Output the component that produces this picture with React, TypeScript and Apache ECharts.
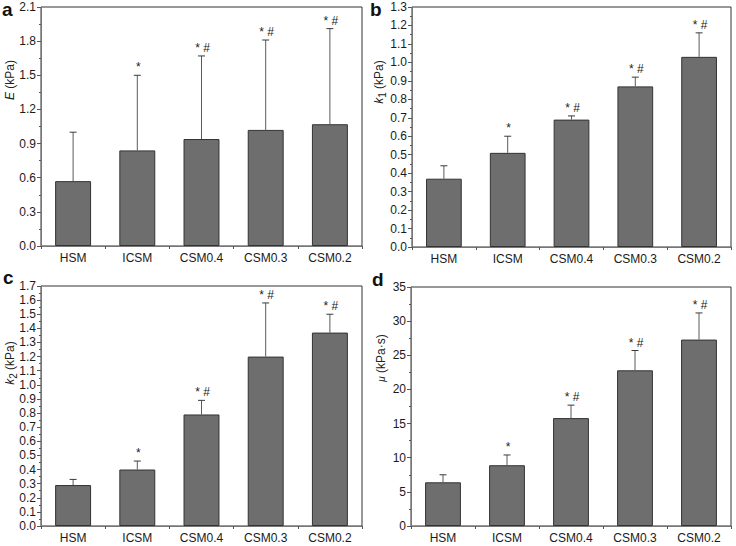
import React, { useEffect, useRef } from "react";
import * as echarts from "echarts";

const categories = ["HSM", "ICSM", "CSM0.4", "CSM0.3", "CSM0.2"];
const eMean = [0.57, 0.84, 0.94, 1.02, 1.07];
const eUpper = [1.0, 1.5, 1.67, 1.81, 1.91];
const k1Mean = [0.37, 0.51, 0.69, 0.87, 1.03];
const k1Upper = [0.44, 0.6, 0.71, 0.92, 1.16];
const k2Mean = [0.29, 0.4, 0.79, 1.2, 1.37];
const k2Upper = [0.33, 0.46, 0.89, 1.58, 1.5];
const muMean = [6.4, 8.9, 15.8, 22.8, 27.3];
const muUpper = [7.5, 10.4, 17.7, 25.7, 31.2];
const marks = ["", "*", "* #", "* #", "* #"];

const FONT = "Liberation Sans, Arial, sans-serif";

const panels = [
  { letter: "a", mean: eMean, upper: eUpper, max: 2.1, interval: 0.3, dec: 1 },
  { letter: "b", mean: k1Mean, upper: k1Upper, max: 1.3, interval: 0.1, dec: 1 },
  { letter: "c", mean: k2Mean, upper: k2Upper, max: 1.7, interval: 0.1, dec: 1 },
  { letter: "d", mean: muMean, upper: muUpper, max: 35, interval: 5, dec: 0 },
];

const grids = [
  { left: 41, top: 7, width: 321, height: 239 },
  { left: 412, top: 7, width: 319, height: 240 },
  { left: 41, top: 286, width: 321, height: 240 },
  { left: 411, top: 287, width: 320, height: 239 },
];

export default function App() {
  const ref = useRef<HTMLDivElement>(null);
  useEffect(() => {
    if (!ref.current) return;
    const chart = echarts.init(ref.current, undefined, { renderer: "svg" });

    const xAxis: any[] = [];
    const yAxis: any[] = [];
    const series: any[] = [];
    panels.forEach((p, g) => {
      xAxis.push({
        type: "category",
        gridIndex: g,
        data: categories,
        axisLine: { lineStyle: { color: "#777", width: 1 } },
        axisTick: { alignWithLabel: true, length: 3, lineStyle: { color: "#555" } },
        axisLabel: { color: "#1a1a1a", fontSize: 12, fontFamily: FONT, margin: 6 },
      });
      xAxis.push({
        type: "category",
        gridIndex: g,
        data: categories,
        position: "bottom",
        axisLine: { show: false },
        axisTick: { show: true, length: 3, lineStyle: { color: "#555" } },
        axisLabel: { show: false },
      });
      yAxis.push({
        type: "value",
        gridIndex: g,
        min: 0,
        max: p.max,
        interval: p.interval,
        splitLine: { show: false },
        axisLine: { show: true, lineStyle: { color: "#777", width: 1 } },
        axisTick: { show: true, length: 4, lineStyle: { color: "#555" } },
        minorTick: { show: true, splitNumber: 2, length: 2, lineStyle: { color: "#555" } },
        axisLabel: {
          color: "#1a1a1a",
          fontSize: 12,
          fontFamily: FONT,
          margin: 5,
          formatter: (v: number) => v.toFixed(p.dec),
        },
      });
      series.push({
        type: "bar",
        xAxisIndex: 2 * g,
        yAxisIndex: g,
        data: p.mean,
        barWidth: "56%",
        itemStyle: { color: "#6e6e6e", borderColor: "#333", borderWidth: 1 },
        z: 2,
      });
      series.push({
        type: "custom",
        xAxisIndex: 2 * g,
        yAxisIndex: g,
        z: 3,
        data: p.mean.map((m, i) => [i, m, p.upper[i]]),
        renderItem: (params: any, api: any) => {
          const base = api.coord([api.value(0), api.value(1)]);
          const top = api.coord([api.value(0), api.value(2)]);
          const cx = base[0];
          const half = 3.5;
          const mark = marks[params.dataIndex];
          return {
            type: "group",
            children: [
              {
                type: "line",
                shape: { x1: cx, y1: base[1], x2: cx, y2: top[1] },
                style: { stroke: "#5a5a5a", lineWidth: 1 },
              },
              {
                type: "line",
                shape: { x1: cx - half, y1: top[1], x2: cx + half, y2: top[1] },
                style: { stroke: "#3a3a3a", lineWidth: 1 },
              },
              {
                type: "text",
                x: cx + 1,
                y: top[1] - 2,
                style: {
                  text: mark,
                  align: "center",
                  verticalAlign: "bottom",
                  fontSize: 12,
                  fontFamily: FONT,
                  fill: "#222",
                },
              },
            ],
          };
        },
      });
    });

    const nameStyle = (x: number, y: number, text: string) => ({
      type: "text",
      x,
      y,
      rotation: Math.PI / 2,
      style: {
        text,
        align: "center",
        verticalAlign: "middle",
        fontSize: 12,
        fontFamily: FONT,
        fill: "#222",
        rich: {
          i: { fontStyle: "italic", fontSize: 12, fontFamily: FONT, fill: "#222" },
          im: { fontStyle: "italic", fontSize: 10, fontFamily: FONT, fill: "#222" },
          s: { fontSize: 10, fontFamily: FONT, fill: "#222", padding: [6, 0, 0, 0] },
          n: { fontSize: 12, fontFamily: FONT, fill: "#222" },
        },
      },
    });

    const letter = (x: number, y: number, t: string) => ({
      type: "text",
      x,
      y,
      style: {
        text: t,
        align: "left",
        verticalAlign: "middle",
        fontSize: 19,
        fontWeight: "bold",
        fontFamily: FONT,
        fill: "#111",
      },
    });

    chart.setOption({
      animation: false,
      backgroundColor: "#fff",
      grid: grids.map((gr) => ({
        ...gr,
        show: true,
        borderColor: "#333",
        borderWidth: 1,
        backgroundColor: "transparent",
      })),
      xAxis,
      yAxis,
      series,
      graphic: [
        letter(2, 9, "a"),
        letter(370, 9, "b"),
        letter(3, 277, "c"),
        letter(372, 279, "d"),
        nameStyle(10, 80, "{i|E}{n| (kPa)}"),
        nameStyle(379, 82, "{i|k}{s|1}{n| (kPa)}"),
        nameStyle(10, 363, "{i|k}{s|2}{n| (kPa)}"),
        nameStyle(381, 358, "{im|μ}{n| (kPa·s)}"),
      ],
    });
    return () => chart.dispose();
  }, []);
  return <div ref={ref} style={{ width: 736, height: 546, position: "absolute", left: 0, top: 0 }} />;
}
